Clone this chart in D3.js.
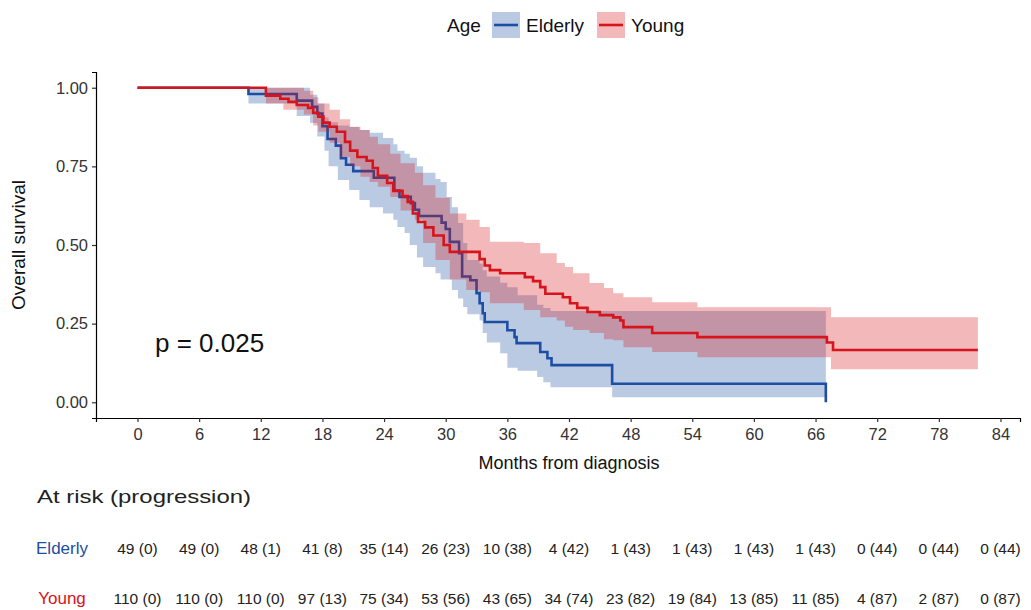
<!DOCTYPE html>
<html>
<head>
<meta charset="utf-8">
<script src="https://cdn.jsdelivr.net/npm/d3@7"></script>
<style>
body { margin: 0; background: #fff; }
text { font-family: "Liberation Sans", Arial, sans-serif; }
</style>
</head>
<body>
<svg width="1031" height="610"></svg>
<script>
// survival steps [months, survival]
var elderlySurv = [[0,1],[10.8,0.98],[15.5,0.959],[17.0,0.939],[17.5,0.918],[18.0,0.878],[18.5,0.837],[19.3,0.816],[19.8,0.776],[20.3,0.755],[21.0,0.735],[23.0,0.714],[25.0,0.673],[25.5,0.653],[26.6,0.633],[27.0,0.612],[27.4,0.592],[29.6,0.571],[30.0,0.551],[30.4,0.51],[31.3,0.474],[31.6,0.40],[32.4,0.388],[33.0,0.347],[33.3,0.315],[33.6,0.283],[33.8,0.255],[36.0,0.229],[36.7,0.207],[36.9,0.188],[39.2,0.16],[39.9,0.14],[40.3,0.118],[46.2,0.059],[67.0,0.0]];
var youngSurv = [[0,1],[12.5,0.975],[13.9,0.965],[14.7,0.955],[15.5,0.945],[16.6,0.936],[17.1,0.92],[17.6,0.908],[18.1,0.889],[18.7,0.876],[19.4,0.86],[20.2,0.828],[20.7,0.80],[21.4,0.78],[22.3,0.768],[22.9,0.745],[23.4,0.72],[24.3,0.697],[24.9,0.672],[25.8,0.656],[26.3,0.637],[26.8,0.60],[27.3,0.573],[28.0,0.556],[28.8,0.53],[29.8,0.50],[30.4,0.478],[33.3,0.455],[33.8,0.435],[34.3,0.42],[35.3,0.41],[37.7,0.398],[38.5,0.385],[39.2,0.366],[39.7,0.345],[41.4,0.334],[42.1,0.315],[42.8,0.30],[43.8,0.287],[45.0,0.277],[46.3,0.27],[47.0,0.26],[47.3,0.239],[50.1,0.22],[54.5,0.207],[67.1,0.19],[67.7,0.166],[81.8,0.166]];

// confidence bands [months, lower, upper]
var elderlyBand = [[0,1,1],[10.8,0.95,1.0],[15.5,0.91,1.0],[16.8,0.888,0.978],[17.5,0.845,0.95],[18.2,0.80,0.905],[18.6,0.75,0.89],[19.5,0.707,0.88],[20.6,0.675,0.875],[21.6,0.643,0.866],[22.6,0.62,0.857],[23.9,0.60,0.84],[24.9,0.58,0.82],[25.3,0.557,0.80],[26.0,0.538,0.79],[26.5,0.50,0.777],[27.2,0.46,0.75],[27.8,0.43,0.73],[29.0,0.41,0.71],[29.5,0.39,0.70],[30.1,0.39,0.653],[30.6,0.357,0.62],[31.2,0.33,0.57],[31.7,0.303,0.506],[32.1,0.28,0.452],[33.3,0.26,0.44],[33.6,0.22,0.42],[34.0,0.19,0.40],[35.3,0.156,0.38],[36.0,0.11,0.366],[37.0,0.10,0.34],[38.9,0.08,0.31],[39.5,0.064,0.30],[40.2,0.048,0.29],[46.2,0.016,0.29],[67.0,0.016,0.29]];
var youngBand = [[0,1,1],[12.5,0.95,1.0],[14.2,0.93,1.0],[16.2,0.915,0.99],[17.1,0.88,0.97],[17.6,0.86,0.95],[18.7,0.825,0.93],[19.7,0.78,0.90],[20.7,0.75,0.876],[21.7,0.717,0.866],[22.6,0.70,0.844],[23.4,0.685,0.82],[24.6,0.653,0.79],[25.6,0.61,0.76],[27.0,0.58,0.73],[27.8,0.506,0.69],[29.0,0.452,0.65],[30.4,0.39,0.60],[32.0,0.357,0.58],[33.3,0.35,0.557],[34.3,0.315,0.51],[37.6,0.293,0.506],[39.2,0.27,0.474],[40.8,0.26,0.443],[41.6,0.24,0.43],[42.4,0.23,0.41],[44.0,0.22,0.379],[45.4,0.2,0.363],[46.3,0.197,0.347],[47.3,0.175,0.334],[50.1,0.16,0.318],[54.5,0.143,0.302],[67.5,0.105,0.27],[81.8,0.105,0.27]];

var xTicks = [0,6,12,18,24,30,36,42,48,54,60,66,72,78,84];
var yTicks = [0,0.25,0.5,0.75,1];
var elderlyAtRisk = [49,49,48,41,35,26,10,4,1,1,1,1,0,0,0];
var elderlyEvents = [0,0,1,8,14,23,38,42,43,43,43,43,44,44,44];
var youngAtRisk = [110,110,110,97,75,53,43,34,23,19,13,11,4,2,0];
var youngEvents = [0,0,0,13,34,56,65,74,82,84,85,85,87,87,87];

var blue = "#1d4ea3", red = "#d7131b";

var svg = d3.select("svg");

var x = d3.scaleLinear().domain([-4.04, 85.9]).range([96, 1020]);
var y = d3.scaleLinear().domain([-0.05, 1.05]).range([418, 72]);

function band(d, col) {
  svg.append("path")
    .datum(d)
    .attr("d", d3.area().curve(d3.curveStepAfter)
      .x(function(p){ return x(p[0]); })
      .y0(function(p){ return y(p[1]); })
      .y1(function(p){ return y(p[2]); }))
    .attr("fill", col)
    .attr("fill-opacity", 0.3);
}
function line(d, col) {
  svg.append("path")
    .datum(d)
    .attr("d", d3.line().curve(d3.curveStepAfter)
      .x(function(p){ return x(p[0]); })
      .y(function(p){ return y(p[1]); }))
    .attr("fill", "none")
    .attr("stroke", col)
    .attr("stroke-width", 2.6);
}

band(elderlyBand, blue);
line(elderlySurv, blue);
band(youngBand, red);
line(youngSurv, red);

// axes
svg.append("g").attr("transform", "translate(0,418)")
  .call(d3.axisBottom(x).tickValues(xTicks).tickSizeOuter(0).tickSize(4).tickPadding(6));
svg.append("g").attr("transform", "translate(96,0)")
  .call(d3.axisLeft(y).tickValues(yTicks).tickFormat(d3.format(".2f")).tickSizeOuter(0).tickSize(4).tickPadding(4));
svg.selectAll(".domain").attr("stroke", "#000").attr("stroke-width", 1.2);
svg.selectAll(".tick line").attr("stroke", "#333").attr("stroke-width", 1.2);
svg.selectAll(".tick text").attr("fill", "#333").style("font-size", "16.5px")
  .style("font-family", "'Liberation Sans', Arial, sans-serif");

svg.append("text").attr("x", 569).attr("y", 469).attr("text-anchor", "middle")
  .style("font-size", "18px").attr("fill", "#111").text("Months from diagnosis");
svg.append("text").attr("transform", "translate(25,245) rotate(-90)").attr("text-anchor", "middle")
  .style("font-size", "19px").attr("fill", "#111").text("Overall survival");

svg.append("text").attr("x", 155).attr("y", 352)
  .style("font-size", "26px").attr("fill", "#111").text("p = 0.025");

// legend
svg.append("text").attr("x", 447).attr("y", 32).style("font-size", "19px").attr("fill", "#111").text("Age");
var legend = [["Elderly", blue, 492], ["Young", red, 597]];
legend.forEach(function(l) {
  svg.append("rect").attr("x", l[2]).attr("y", 12).attr("width", 28).attr("height", 26)
    .attr("fill", l[1]).attr("fill-opacity", 0.3);
  svg.append("line").attr("x1", l[2] + 2).attr("x2", l[2] + 26).attr("y1", 25).attr("y2", 25)
    .attr("stroke", l[1]).attr("stroke-width", 2.6);
  svg.append("text").attr("x", l[2] + 34).attr("y", 32).style("font-size", "19px").attr("fill", "#111").text(l[0]);
});

// risk table
svg.append("text").attr("x", 37).attr("y", 503).style("font-size", "18.5px")
  .attr("textLength", 214).attr("lengthAdjust", "spacingAndGlyphs")
  .attr("fill", "#222").text("At risk (progression)");
var rows = [["Elderly", blue, elderlyAtRisk, elderlyEvents, 554], ["Young", red, youngAtRisk, youngEvents, 604]];
rows.forEach(function(r) {
  svg.append("text").attr("x", 62).attr("y", r[4]).attr("text-anchor", "middle")
    .style("font-size", "17px").attr("fill", r[1]).text(r[0]);
  svg.selectAll(null).data(xTicks).enter().append("text")
    .attr("x", function(d){ return x(d); })
    .attr("y", r[4])
    .attr("text-anchor", "middle")
    .style("font-size", "15.5px").attr("fill", "#222")
    .text(function(d, i){ return r[2][i] + " (" + r[3][i] + ")"; });
});
</script>
</body>
</html>
